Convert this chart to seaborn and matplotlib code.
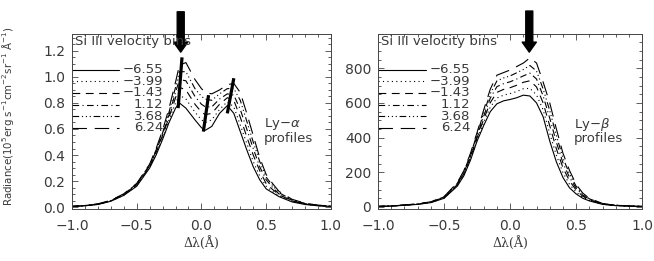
import numpy as np
import pandas as pd
import matplotlib
matplotlib.use("Agg")
import matplotlib.pyplot as plt
from matplotlib.ticker import MultipleLocator
import seaborn as sns

# ================================
# Data
# ================================
bins = ["-6.55", "-3.99", "-1.43", "1.12", "3.68", "6.24"]
bin_labels = ["\u22126.55", "\u22123.99", "\u22121.43", "1.12", "3.68", "6.24"]

# Ly-alpha profiles
dl_a = [-1.0, -0.9, -0.8, -0.7, -0.6, -0.5, -0.4, -0.35, -0.3, -0.25, -0.2, -0.17,
        -0.12, -0.05, 0.0, 0.03, 0.08, 0.14, 0.2, 0.25, 0.3, 0.35, 0.4, 0.45,
        0.5, 0.55, 0.6, 0.7, 0.8, 0.9, 1.0]
lya_m655 = [.005, .010, .020, .045, .090, .160, .300, .40, .52, .65, .76, .80,
            .76, .67, .61, .59, .62, .72, .78, .72, .58, .44, .31, .21,
            .14, .11, .080, .040, .020, .010, .005]
lya_m399 = [.005, .010, .021, .046, .092, .165, .306, .41, .53, .67, .80, .86,
            .83, .73, .67, .65, .67, .75, .81, .77, .63, .49, .35, .24,
            .16, .12, .087, .044, .022, .011, .006]
lya_m143 = [.005, .011, .022, .048, .095, .170, .312, .42, .55, .69, .84, .92,
            .90, .79, .73, .71, .72, .79, .84, .82, .69, .54, .40, .28,
            .18, .135, .094, .048, .024, .012, .006]
lya_p112 = [.005, .011, .023, .049, .097, .174, .318, .43, .56, .71, .88, .98,
            .97, .85, .79, .77, .77, .83, .87, .86, .75, .60, .45, .31,
            .21, .15, .100, .052, .026, .013, .007]
lya_p368 = [.005, .012, .024, .050, .100, .178, .324, .44, .57, .73, .92, 1.04,
            1.04, .91, .85, .83, .82, .87, .91, .91, .82, .66, .50, .35,
            .23, .165, .110, .056, .028, .014, .007]
lya_p624 = [.005, .012, .025, .052, .102, .182, .330, .45, .59, .76, .96, 1.09,
            1.11, .98, .91, .88, .87, .90, .94, .95, .88, .72, .55, .38,
            .25, .18, .120, .060, .030, .015, .008]

# Ly-beta profiles
dl_b = [-1.0, -0.9, -0.8, -0.7, -0.6, -0.5, -0.4, -0.35, -0.3, -0.25, -0.2, -0.15,
        -0.1, -0.05, 0.0, 0.05, 0.1, 0.15, 0.2, 0.25, 0.3, 0.35, 0.4, 0.45,
        0.5, 0.55, 0.6, 0.7, 0.8, 0.9, 1.0]
lyb_m655 = [3, 5, 10, 15, 25, 50, 120, 180, 270, 380, 470, 550,
            595, 612, 620, 630, 645, 640, 600, 520, 380, 260, 170, 110,
            75, 50, 35, 15, 8, 5, 3]
lyb_m399 = [3, 5, 10, 16, 26, 52, 124, 186, 278, 390, 488, 576,
            628, 645, 654, 666, 682, 684, 646, 560, 424, 298, 198, 130,
            86, 56, 38, 16, 8, 5, 3]
lyb_m143 = [3, 5, 11, 16, 27, 54, 128, 192, 286, 400, 506, 602,
            661, 678, 688, 702, 719, 728, 692, 600, 468, 336, 226, 150,
            97, 62, 41, 17, 9, 5, 3]
lyb_p112 = [3, 6, 11, 17, 28, 56, 132, 198, 294, 410, 524, 628,
            694, 711, 722, 738, 756, 772, 738, 640, 512, 374, 254, 170,
            108, 68, 44, 18, 9, 6, 3]
lyb_p368 = [3, 6, 12, 17, 29, 58, 136, 204, 302, 420, 542, 654,
            727, 744, 756, 774, 793, 816, 784, 680, 556, 412, 282, 190,
            119, 74, 47, 19, 10, 6, 3]
lyb_p624 = [3, 6, 12, 18, 30, 60, 140, 210, 310, 430, 560, 680,
            760, 775, 790, 810, 830, 860, 830, 720, 600, 450, 310, 210,
            130, 80, 50, 20, 10, 6, 3]

# thick line segments tracking the Ly-alpha peaks and the central reversal
track_x = [[-0.18, -0.15], [0.015, 0.055], [0.20, 0.25]]
track_y = [[0.76, 1.15], [0.58, 0.86], [0.72, 0.99]]

# arrows marking the Si III line position
arrow_a_x, arrow_a_tip, arrow_a_top = -0.16, 1.19, 1.50
arrow_b_x, arrow_b_tip, arrow_b_top = 0.145, 893, 1130

# ================================
# Long tables for seaborn
# ================================
lya = pd.DataFrame({
    "dl": dl_a * 6,
    "rad": lya_m655 + lya_m399 + lya_m143 + lya_p112 + lya_p368 + lya_p624,
    "bin": np.repeat(bins, len(dl_a)),
})
lyb = pd.DataFrame({
    "dl": dl_b * 6,
    "rad": lyb_m655 + lyb_m399 + lyb_m143 + lyb_p112 + lyb_p368 + lyb_p624,
    "bin": np.repeat(bins, len(dl_b)),
})

dash_map = {
    "-6.55": "",
    "-3.99": (1, 3),
    "-1.43": (7, 5),
    "1.12": (6, 3, 1, 3),
    "3.68": (6, 2.5, 1, 2.5, 1, 2.5, 1, 2.5),
    "6.24": (13, 7),
}

sns.set_style("ticks")
plt.rcParams["font.family"] = ["DejaVu Sans"]
plt.rcParams["font.size"] = 9
txt_col = "#3a3a3a"
fs = 9.5

fig = plt.figure(figsize=(6.54, 2.61), dpi=100)
ax1 = fig.add_axes([0.110, 0.199, 0.396, 0.671])
ax2 = fig.add_axes([0.578, 0.199, 0.404, 0.671])


def style_axes(ax, ymajor, yminor):
    ax.set_xlim(-1.0, 1.0)
    ax.xaxis.set_major_locator(MultipleLocator(0.5))
    ax.xaxis.set_minor_locator(MultipleLocator(0.1))
    ax.yaxis.set_major_locator(MultipleLocator(ymajor))
    ax.yaxis.set_minor_locator(MultipleLocator(yminor))
    ax.tick_params(which="both", direction="in", top=True, right=True,
                   color="#444444", width=0.6, labelcolor=txt_col, labelsize=10)
    ax.tick_params(which="major", length=4)
    ax.tick_params(axis="x", which="major", pad=7)
    ax.tick_params(axis="y", which="major", pad=5)
    ax.tick_params(which="minor", length=2)
    for s in ax.spines.values():
        s.set_linewidth(0.7)
        s.set_color("#444444")
    ax.set_xlabel("\u0394\u03bb(\u00c5)", family="DejaVu Serif", fontsize=9,
                  color=txt_col, labelpad=2)


def draw_legend(ax, lbl_x):
    ax.text(0.01, 0.955, "Si III velocity bins", transform=ax.transAxes,
            ha="left", va="center", color=txt_col, fontsize=fs)
    for i, (b, lab) in enumerate(zip(bins, bin_labels)):
        yy = 0.795 - 0.066 * i
        d = dash_map[b]
        ln, = ax.plot([0.0, 0.18], [yy, yy], transform=ax.transAxes,
                      color="k", lw=0.8)
        if d:
            ln.set_dashes(d)
        ax.text(lbl_x, yy, lab, transform=ax.transAxes, ha="right",
                va="center", color=txt_col, fontsize=fs)


# ================================
# Ly-alpha panel
# ================================
sns.lineplot(data=lya, x="dl", y="rad", style="bin", style_order=bins,
             dashes=dash_map, color="k", lw=0.8, sort=False, legend=False,
             estimator=None, ax=ax1)
for tx, ty in zip(track_x, track_y):
    ax1.plot(tx, ty, color="k", lw=2.3, solid_capstyle="butt")
ax1.annotate("", xy=(arrow_a_x, arrow_a_tip), xytext=(arrow_a_x, arrow_a_top),
             annotation_clip=False,
             arrowprops=dict(arrowstyle="simple,head_length=0.6,head_width=0.85,tail_width=0.42",
                             mutation_scale=12, color="k", shrinkA=0, shrinkB=0))
ax1.set_ylim(-0.015, 1.33)
style_axes(ax1, 0.2, 0.05)
ax1.set_ylabel("Radiance(10$^5$erg s$^{-1}$cm$^{-2}$sr$^{-1}$ \u00c5$^{-1}$)",
               color=txt_col, fontsize=7.4)
ax1.yaxis.set_label_coords(-0.215, 0.53)
draw_legend(ax1, 0.352)
ax1.text(0.742, 0.485, "Ly\u2212$\\alpha$", transform=ax1.transAxes,
         ha="left", va="center", color=txt_col, fontsize=fs)
ax1.text(0.742, 0.405, "profiles", transform=ax1.transAxes,
         ha="left", va="center", color=txt_col, fontsize=fs)

# ================================
# Ly-beta panel
# ================================
sns.lineplot(data=lyb, x="dl", y="rad", style="bin", style_order=bins,
             dashes=dash_map, color="k", lw=0.8, sort=False, legend=False,
             estimator=None, ax=ax2)
ax2.annotate("", xy=(arrow_b_x, arrow_b_tip), xytext=(arrow_b_x, arrow_b_top),
             annotation_clip=False,
             arrowprops=dict(arrowstyle="simple,head_length=0.6,head_width=0.85,tail_width=0.42",
                             mutation_scale=12, color="k", shrinkA=0, shrinkB=0))
ax2.set_ylim(-12, 998)
style_axes(ax2, 200, 50)
ax2.set_ylabel("")
draw_legend(ax2, 0.35)
ax2.text(0.742, 0.485, "Ly\u2212$\\beta$", transform=ax2.transAxes,
         ha="left", va="center", color=txt_col, fontsize=fs)
ax2.text(0.742, 0.405, "profiles", transform=ax2.transAxes,
         ha="left", va="center", color=txt_col, fontsize=fs)

fig.savefig("out.png", dpi=100)
